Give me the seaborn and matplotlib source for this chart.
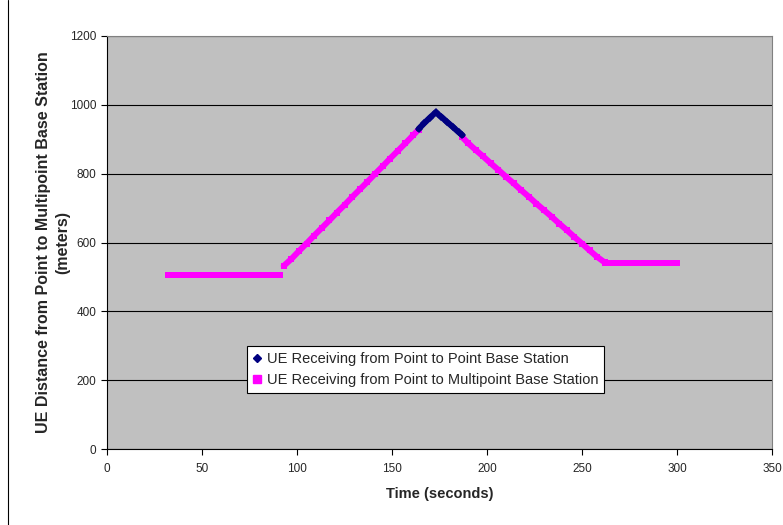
import pandas as pd
import seaborn as sns
import matplotlib.pyplot as plt
from matplotlib.lines import Line2D

# values (time in s, distance in m)
mp_flat1_t = [32, 36, 40, 44, 48, 52, 56, 60, 64, 68, 72, 76, 80, 84, 88, 91]
mp_flat1_d = [505, 505, 505, 505, 505, 505, 505, 505, 505, 505, 505, 505, 505, 505, 505, 505]

mp_up_t = [93, 97, 101, 105, 109, 113, 117, 121, 125, 129, 133, 137, 141, 145, 149, 153, 157, 161, 164]
mp_up_d = [532, 552, 575, 597, 620, 642, 664, 687, 709, 732, 754, 776, 799, 821, 844, 866, 888, 911, 928]

p2p_t = [164, 167, 170, 173, 176, 179, 182, 185, 187]
p2p_d = [930, 947, 963, 978, 965, 950, 936, 921, 912]

mp_down_t = [187, 190, 194, 198, 202, 206, 210, 214, 218, 222, 226, 230, 234, 238, 242,
             246, 250, 254, 258, 262]
mp_down_d = [906, 889, 869, 850, 830, 811, 791, 772, 752, 733, 713, 694, 675, 655, 636,
             616, 597, 577, 558, 542]

mp_flat2_t = [262, 266, 270, 274, 278, 282, 286, 290, 294, 298, 300]
mp_flat2_d = [540, 540, 540, 540, 540, 540, 540, 540, 540, 540, 540]

labels = ['UE Receiving from Point to Point Base Station',
          'UE Receiving from Point to Multipoint Base Station']

sns.set_style('white')
plt.rcParams['font.family'] = ['Liberation Sans', 'DejaVu Sans']

fig = plt.figure(figsize=(7.83, 5.25), dpi=100)
ax = fig.add_axes([107 / 783, 1 - 449 / 525, 665 / 783, 413 / 525])
ax.set_facecolor('#C0C0C0')

magenta = '#FF00FF'
navy = '#000080'

segs = [(mp_flat1_t, mp_flat1_d), (mp_up_t, mp_up_d), (mp_down_t, mp_down_d), (mp_flat2_t, mp_flat2_d)]
for t, d in segs:
    df = pd.DataFrame({'t': t, 'd': d})
    sns.lineplot(data=df, x='t', y='d', ax=ax, color=magenta, linewidth=4.3,
                 marker='s', markersize=4, markeredgewidth=0, sort=False, zorder=3)

df = pd.DataFrame({'t': p2p_t, 'd': p2p_d})
sns.lineplot(data=df, x='t', y='d', ax=ax, color=navy, linewidth=4.3,
             marker='D', markersize=4, markeredgewidth=0, sort=False, zorder=4)

ax.set_xlim(0, 350)
ax.set_ylim(0, 1200)
ax.set_xticks(range(0, 351, 50))
ax.set_yticks(range(0, 1201, 200))
ax.yaxis.grid(True, color='black', linewidth=0.8)
ax.set_axisbelow(True)
ax.tick_params(axis='both', direction='out', length=4, width=0.8, color='black',
               labelsize=8.5, bottom=True, left=True)
ax.tick_params(axis='x', pad=6)

for s in ['left', 'bottom']:
    ax.spines[s].set_color('black')
    ax.spines[s].set_linewidth(0.8)
for s in ['top', 'right']:
    ax.spines[s].set_color('#808080')
    ax.spines[s].set_linewidth(0.8)

ax.set_xlabel('Time (seconds)', labelpad=9, fontweight='bold', fontsize=10.5)
ax.set_ylabel('UE Distance from Point to Multipoint Base Station\n(meters)', labelpad=0,
              linespacing=1.3, fontweight='bold', fontsize=11.5)

handles = [Line2D([], [], color=navy, marker='D', markersize=4.5, linestyle='none'),
           Line2D([], [], color=magenta, marker='s', markersize=5.5, linestyle='none')]
leg = ax.legend(handles, labels, loc='lower left', bbox_to_anchor=(0.21, 0.135),
                frameon=True, fancybox=False, framealpha=1, edgecolor='black',
                fontsize=10.5, handlelength=0.6, handletextpad=0.35, borderpad=0.42,
                labelspacing=0.5, borderaxespad=0)
leg.get_frame().set_linewidth(0.8)

# border line at left edge of the picture
fig.add_artist(Line2D([8 / 783, 8 / 783], [0, 1], color='black', linewidth=0.8))

fig.savefig('out.png', dpi=100, facecolor='white')
